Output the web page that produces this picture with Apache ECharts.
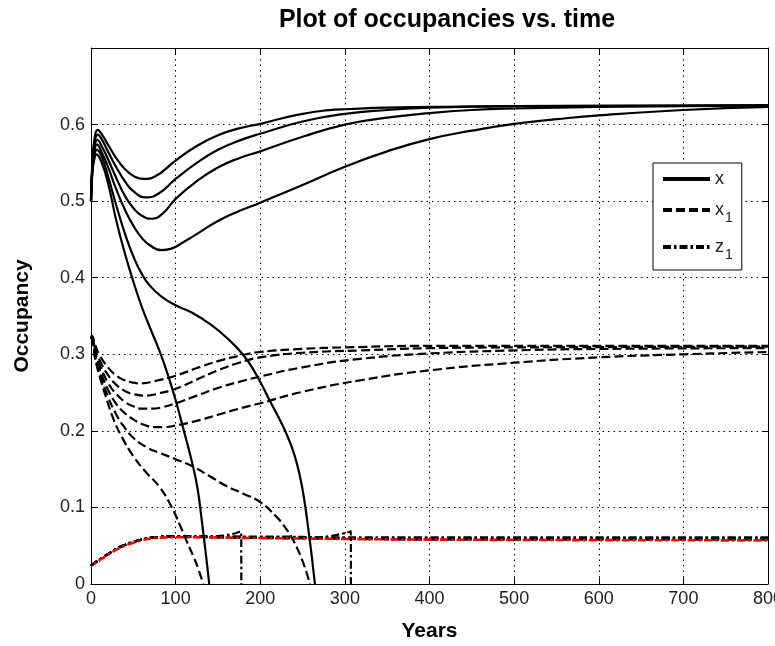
<!DOCTYPE html>
<html>
<head>
<meta charset="utf-8">
<script src="https://cdn.jsdelivr.net/npm/echarts@6/dist/echarts.min.js"></script>
<style>
html, body { margin: 0; padding: 0; background: #fff; }
#chart { width: 775px; height: 646px; }
</style>
</head>
<body>
<div id="chart"></div>
<script>
// Axis ticks
const yearTicks = [0, 100, 200, 300, 400, 500, 600, 700, 800];
const occTicks = [0, 0.1, 0.2, 0.3, 0.4, 0.5, 0.6, 0.7];

// Occupancy x: four runs that recover, two that go extinct
const xRunA = [[0,0.500],[1.5,0.548],[4,0.580],[8,0.593],[13,0.587],[20,0.574],[30,0.556],[40,0.542],[50,0.533],[62,0.529],[75,0.532],[100,0.553],[125,0.572],[150,0.586],[175,0.595],[200,0.601],[250,0.614],[300,0.620],[400,0.623],[500,0.624],[800,0.625]];
const xRunB = [[0,0.500],[1.5,0.545],[4,0.575],[8,0.587],[13,0.580],[20,0.565],[30,0.544],[40,0.526],[50,0.513],[65,0.505],[80,0.510],[100,0.529],[125,0.550],[150,0.567],[175,0.579],[200,0.588],[250,0.604],[300,0.614],[350,0.619],[400,0.622],[500,0.624],[800,0.625]];
const xRunC = [[0,0.500],[1.5,0.542],[4,0.569],[7.5,0.580],[13,0.571],[20,0.555],[30,0.530],[40,0.507],[50,0.491],[60,0.481],[72,0.477],[85,0.484],[100,0.503],[125,0.526],[150,0.544],[175,0.556],[200,0.565],[250,0.584],[300,0.600],[350,0.609],[400,0.615],[450,0.619],[500,0.621],[600,0.623],[800,0.625]];
const xRunD = [[0,0.500],[1.5,0.540],[4,0.564],[7,0.574],[13,0.563],[20,0.545],[30,0.515],[40,0.489],[50,0.468],[60,0.452],[70,0.442],[83,0.436],[95,0.438],[110,0.447],[125,0.457],[150,0.474],[175,0.487],[200,0.498],[250,0.521],[300,0.545],[350,0.565],[400,0.581],[450,0.592],[500,0.601],[550,0.607],[600,0.612],[700,0.619],[800,0.623]];
const xRunE = [[0,0.500],[1.5,0.536],[4,0.555],[6.5,0.561],[12,0.552],[20,0.524],[30,0.474],[40,0.432],[50,0.395],[60,0.362],[70,0.334],[80,0.307],[90,0.276],[100,0.240],[110,0.199],[120,0.156],[126,0.124],[131,0.082],[135,0.046],[138,0.017],[139.7,0]];
const xRunF = [[0,0.500],[1.5,0.538],[4,0.560],[7,0.567],[12,0.560],[20,0.533],[30,0.494],[40,0.458],[50,0.428],[60,0.405],[70,0.389],[85,0.374],[100,0.364],[120,0.354],[140,0.340],[160,0.322],[180,0.299],[195,0.274],[211,0.240],[221,0.219],[231,0.196],[240,0.170],[247,0.140],[252,0.110],[257,0.070],[261,0.035],[264.6,0]];

// Occupancy x1
const x1RunA = [[0,0.320],[1,0.324],[5,0.312],[10,0.299],[20,0.283],[30,0.272],[40,0.266],[50,0.263],[60,0.262],[75,0.265],[100,0.272],[125,0.282],[150,0.291],[175,0.298],[200,0.303],[250,0.307],[300,0.309],[400,0.311],[800,0.311]];
const x1RunB = [[0,0.320],[1,0.323],[5,0.307],[10,0.293],[20,0.273],[30,0.260],[40,0.252],[50,0.248],[66,0.246],[80,0.249],[100,0.255],[125,0.267],[150,0.279],[175,0.289],[200,0.296],[250,0.302],[318,0.305],[400,0.308],[500,0.309],[800,0.310]];
const x1RunC = [[0,0.320],[1,0.322],[5,0.302],[10,0.287],[20,0.263],[30,0.248],[40,0.238],[50,0.232],[60,0.229],[72,0.229],[85,0.231],[100,0.236],[125,0.246],[150,0.256],[175,0.264],[200,0.271],[250,0.283],[318,0.294],[400,0.301],[500,0.305],[600,0.307],[800,0.308]];
const x1RunD = [[0,0.320],[1,0.321],[5,0.298],[10,0.281],[20,0.254],[30,0.235],[40,0.223],[50,0.215],[60,0.209],[75,0.205],[87,0.205],[100,0.207],[125,0.213],[150,0.221],[175,0.229],[200,0.236],[250,0.251],[318,0.266],[400,0.279],[500,0.289],[600,0.296],[700,0.300],[800,0.303]];
const x1RunE = [[0,0.320],[1,0.320],[5,0.294],[10,0.272],[20,0.236],[26,0.217],[35,0.195],[50,0.167],[65,0.146],[81.5,0.126],[95,0.101],[105,0.077],[113,0.056],[121,0.036],[127,0.019],[132.6,0]];
const x1RunF = [[0,0.320],[1,0.321],[5,0.296],[10,0.276],[20,0.245],[30,0.221],[40,0.204],[50,0.191],[65,0.179],[81.5,0.171],[100,0.163],[121,0.153],[140,0.141],[160,0.128],[180,0.118],[200,0.107],[219,0.088],[230,0.073],[239,0.057],[251,0.027],[258.6,0]];

// Occupancy z1
const z1RunA = [[0,0.024],[10,0.032],[20,0.039],[30,0.046],[40,0.051],[50,0.055],[60,0.058],[75,0.061],[100,0.062],[150,0.062],[200,0.062],[300,0.061],[400,0.061],[800,0.061]];
const z1RunB = [[0,0.024],[10,0.032],[20,0.039],[30,0.046],[40,0.051],[50,0.055],[60,0.058],[75,0.061],[100,0.062],[150,0.062],[200,0.061],[300,0.060],[400,0.060],[800,0.060]];
const z1RunC = [[0,0.024],[10,0.032],[20,0.039],[30,0.046],[40,0.051],[50,0.055],[60,0.058],[75,0.061],[100,0.062],[150,0.061],[200,0.061],[300,0.060],[400,0.059],[800,0.059]];
const z1RunD = [[0,0.024],[10,0.032],[20,0.039],[30,0.046],[40,0.051],[50,0.055],[60,0.058],[75,0.061],[100,0.062],[150,0.061],[200,0.060],[300,0.059],[400,0.058],[800,0.058]];
const z1RunE = [[0,0.024],[10,0.032],[20,0.039],[30,0.046],[40,0.051],[50,0.055],[60,0.058],[75,0.061],[100,0.062],[140,0.062],[160,0.064],[170,0.066],[176,0.068],[177.5,0.068],[177.6,0]];
const z1RunF = [[0,0.024],[10,0.032],[20,0.039],[30,0.046],[40,0.051],[50,0.055],[60,0.058],[75,0.061],[100,0.062],[200,0.061],[265,0.061],[285,0.063],[298,0.066],[305,0.068],[307,0.069],[307.1,0]];
const z1Red = [[0,0.023],[10,0.031],[20,0.038],[30,0.045],[40,0.050],[50,0.054],[60,0.057],[75,0.060],[100,0.061],[200,0.060],[400,0.058],[800,0.057]];

const FONT = "'Liberation Sans', Arial, Helvetica, sans-serif";
const SOLID = 'solid';
const DASHED = [9, 4];
const DASHDOT = [8, 3, 2.5, 3];

function curve(name, data, type, color, width, dashOffset) {
  return {
    name: name,
    type: 'line',
    data: data,
    showSymbol: false,
    symbol: 'none',
    smooth: 0.5,
    clip: true,
    silent: true,
    lineStyle: { color: color, width: width, type: type, dashOffset: dashOffset || 0 },
    itemStyle: { color: color }
  };
}

const series = [
  curve('z1', z1RunA, DASHDOT, '#000', 2.2),
  curve('z1', z1RunB, DASHDOT, '#000', 2.2),
  curve('z1', z1RunC, DASHDOT, '#000', 2.2),
  curve('z1', z1RunD, DASHDOT, '#000', 2.2),
  curve('z1', z1RunE, DASHDOT, '#000', 2.2),
  curve('z1', z1RunF, DASHDOT, '#000', 2.2),
  curve('z1 red', z1Red, DASHDOT, '#ff0000', 2.6, 7),
  curve('x1', x1RunA, DASHED, '#000', 2.2),
  curve('x1', x1RunB, DASHED, '#000', 2.2),
  curve('x1', x1RunC, DASHED, '#000', 2.2),
  curve('x1', x1RunD, DASHED, '#000', 2.2),
  curve('x1', x1RunE, DASHED, '#000', 2.2),
  curve('x1', x1RunF, DASHED, '#000', 2.2),
  curve('x', xRunA, SOLID, '#000', 2.2),
  curve('x', xRunB, SOLID, '#000', 2.2),
  curve('x', xRunC, SOLID, '#000', 2.2),
  curve('x', xRunD, SOLID, '#000', 2.2),
  curve('x', xRunE, SOLID, '#000', 2.2),
  curve('x', xRunF, SOLID, '#000', 2.2)
];

const gridLine = { show: true, lineStyle: { color: '#000', width: 1, type: [1.5, 4] } };
const frameLine = { show: true, onZero: false, lineStyle: { color: '#000', width: 1 } };
const tick = { show: true, inside: true, length: 6, lineStyle: { color: '#000', width: 1 } };

const option = {
  animation: false,
  backgroundColor: '#fff',
  title: {
    text: 'Plot of occupancies vs. time',
    left: 447,
    top: 8,
    textAlign: 'center',
    padding: 0,
    textStyle: { fontFamily: FONT, fontWeight: 'bold', fontSize: 25, color: '#000' }
  },
  grid: { left: 91, right: 7, top: 48, bottom: 62, containLabel: false, outerBoundsMode: 'none' },
  legend: {
    data: ['x', 'x1', 'z1'],
    orient: 'vertical',
    left: 653,
    top: 163,
    padding: [7, 9, 8, 8],
    itemGap: 7,
    itemWidth: 47,
    itemHeight: 14,
    selectedMode: false,
    backgroundColor: '#fff',
    borderColor: '#000',
    borderWidth: 1,
    borderRadius: 0,
    lineStyle: { width: 4 },
    itemStyle: { opacity: 0 },
    formatter: function (name) {
      return name === 'x' ? '{m|x}' : '{m|' + name.charAt(0) + '}{s|' + name.charAt(1) + '}';
    },
    textStyle: {
      fontFamily: FONT,
      color: '#222',
      rich: {
        m: { fontFamily: FONT, fontSize: 18, color: '#222', lineHeight: 20 },
        s: { fontFamily: FONT, fontSize: 14, color: '#222', lineHeight: 14, padding: [16, 0, 0, 1] }
      }
    }
  },
  xAxis: [
    {
      type: 'value',
      min: yearTicks[0],
      max: yearTicks[yearTicks.length - 1],
      interval: 100,
      position: 'bottom',
      name: 'Years',
      nameLocation: 'middle',
      nameGap: 37,
      nameTextStyle: { fontFamily: FONT, fontWeight: 'bold', fontSize: 21, color: '#000' },
      axisLine: frameLine,
      axisTick: tick,
      axisLabel: { fontFamily: FONT, fontSize: 18, color: '#222', margin: 6, showMaxLabel: true },
      splitLine: gridLine
    },
    {
      type: 'value',
      min: yearTicks[0],
      max: yearTicks[yearTicks.length - 1],
      interval: 100,
      position: 'top',
      axisLine: frameLine,
      axisTick: tick,
      axisLabel: { show: false },
      splitLine: { show: false }
    }
  ],
  yAxis: [
    {
      type: 'value',
      min: occTicks[0],
      max: occTicks[occTicks.length - 1],
      interval: 0.1,
      position: 'left',
      name: 'Occupancy',
      nameLocation: 'middle',
      nameGap: 58,
      nameTextStyle: { fontFamily: FONT, fontWeight: 'bold', fontSize: 21, color: '#000' },
      axisLine: frameLine,
      axisTick: tick,
      axisLabel: {
        fontFamily: FONT, fontSize: 18, color: '#222', margin: 6,
        formatter: function (v) { return v > 0.65 ? '' : String(+v.toFixed(1)); }
      },
      splitLine: gridLine
    },
    {
      type: 'value',
      min: occTicks[0],
      max: occTicks[occTicks.length - 1],
      interval: 0.1,
      position: 'right',
      axisLine: frameLine,
      axisTick: tick,
      axisLabel: { show: false },
      splitLine: { show: false }
    }
  ],
  series: series
};

const chart = echarts.init(document.getElementById('chart'), null, { renderer: 'canvas' });
chart.setOption(option);
</script>
</body>
</html>
